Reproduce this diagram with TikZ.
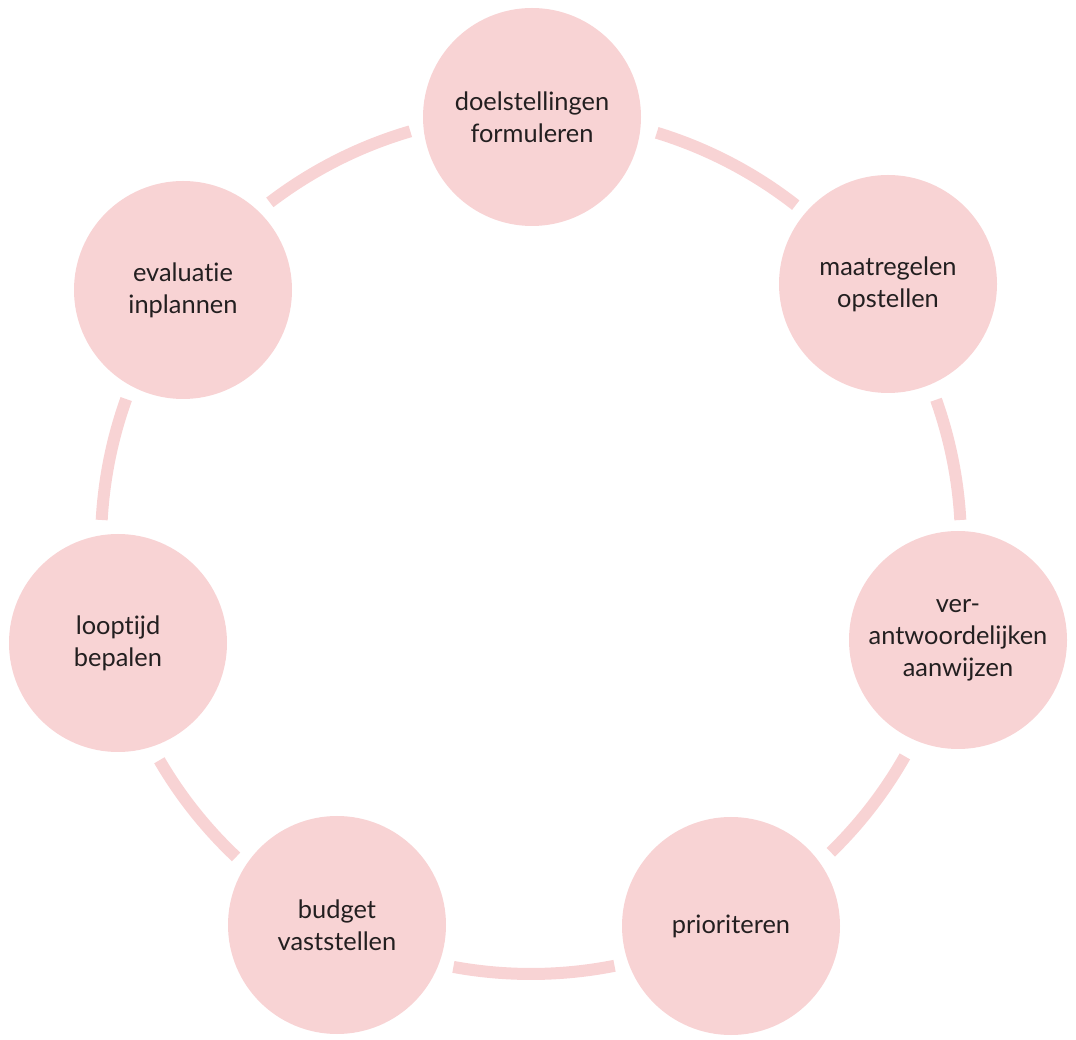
\documentclass[tikz,border=0pt]{standalone}
\usepackage{fontspec}
\setmainfont{Lato}[Ligatures={NoCommon,NoRare,NoDiscretionary}]
\usepackage{tikz}
\definecolor{roze}{HTML}{F8D3D4}
\definecolor{tekst}{HTML}{231F20}

\begin{document}
\begin{tikzpicture}[x=0.5pt, y=0.5pt, every node/.style={font=\fontsize{12.7}{16}\selectfont, text=tekst}]
\tikzstyle{stap}=[circle, fill=roze, minimum size=109pt, inner sep=0pt, align=center]
\tikzstyle{boog}=[draw=roze, line width=6pt]
\useasboundingbox (0,0) rectangle (1076,1039);
\coordinate (ring) at (531,495);
\node[stap] (doel) at (532,922) {doelstellingen\\formuleren};
\node[stap] (maat) at (888,755) {maatregelen\\opstellen};
\node[stap] (verant) at (958,399) {ver-\\antwoordelijken\\aanwijzen};
\node[stap] (prio) at (731,113) {prioriteren};
\node[stap] (budget) at (337,114) {budget\\vaststellen};
\node[stap] (looptijd) at (118,396) {looptijd\\bepalen};
\node[stap] (eval) at (183,749) {evaluatie\\inplannen};
% bogen tussen de stappen
\foreach \a/\b in {73/52, 19.6/3.2, -29.6/-45.8, -78.8/-100.4, -133.3/-149.8, 176.8/160.3, 127.4/106.3}
  \draw[boog] ([shift={(\a:430)}]ring) arc[start angle=\a, end angle=\b, radius=215pt];
\end{tikzpicture}
\end{document}
